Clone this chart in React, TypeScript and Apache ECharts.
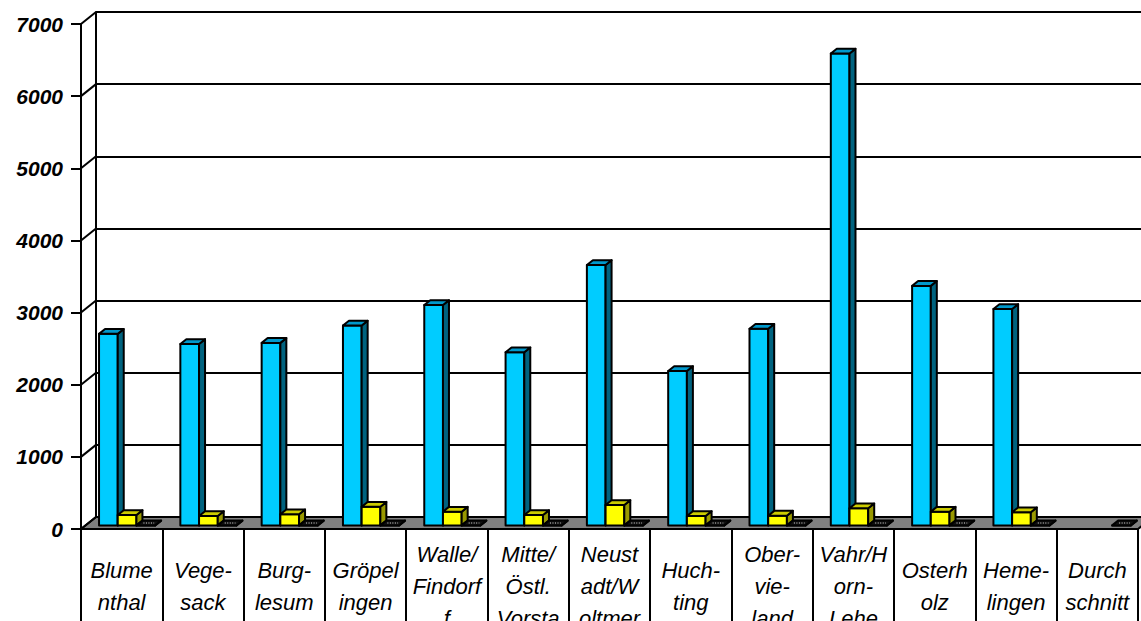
import React, { useEffect, useRef } from "react";
import * as echarts from "echarts";

// Stadtteile (wrapped the way the label cells break them)
const categories = [
  "Blume\nnthal",
  "Vege-\nsack",
  "Burg-\nlesum",
  "Gröpel\ningen",
  "Walle/\nFindorf\nf",
  "Mitte/\nÖstl.\nVorsta",
  "Neust\nadt/W\noltmer",
  "Huch-\nting",
  "Ober-\nvie-\nland",
  "Vahr/H\norn-\nLehe",
  "Osterh\nolz",
  "Heme-\nlingen",
  "Durch\nschnitt",
];

const cyanValues = [2655, 2515, 2530, 2770, 3055, 2400, 3610, 2140, 2725, 6540, 3320, 3000, null];
const yellowValues = [144, 130, 154, 259, 190, 144, 283, 130, 135, 237, 190, 182, null];
const blackValues = [0, 0, 0, 0, 0, 0, 0, 0, 0, 0, 0, 0, 0];

const yTickValues = [0, 1000, 2000, 3000, 4000, 5000, 6000, 7000];
const Y_MAX = 7000;
const Y_STEP = 1000;

// pseudo-3D depth of the floor / walls
const DX = 15;
const DY = 12;
// bar depth band inside the floor depth
const FRONT = 0.3;
const BACK = 0.7;

type Faces = { front: string; side: string; top: string };

const makeBarRenderer = (slot: number, faces: Faces, pattern: boolean) =>
  (params: any, api: any) => {
    const v = api.value(1);
    if (v === null || v === undefined || isNaN(v)) return null;
    const i = api.value(0);
    const base = api.coord([i, 0]);
    const top = api.coord([i, v]);
    const band = api.size([1, 0])[0];
    const w = band * 0.23;
    const x0 = base[0] - 1.45 * w + slot * w + DX * FRONT;
    const yb = base[1] - DY * FRONT;
    const yt = top[1] - DY * FRONT;
    const sx = DX * (BACK - FRONT);
    const sy = DY * (BACK - FRONT);
    const stroke = { stroke: "#000", lineWidth: 2, lineJoin: "round" };
    const children: any[] = [
      {
        type: "polygon",
        shape: { points: [[x0, yt], [x0 + w, yt], [x0 + w, yb], [x0, yb]] },
        style: { fill: faces.front, ...stroke },
      },
      {
        type: "polygon",
        shape: {
          points: [[x0 + w, yt], [x0 + w + sx, yt - sy], [x0 + w + sx, yb - sy], [x0 + w, yb]],
        },
        style: { fill: faces.side, ...stroke },
      },
      {
        type: "polygon",
        shape: { points: [[x0, yt], [x0 + sx, yt - sy], [x0 + w + sx, yt - sy], [x0 + w, yt]] },
        style: { fill: faces.top, ...stroke },
      },
    ];
    if (pattern) {
      children.push({
        type: "line",
        shape: { x1: x0 + sx / 2 + 4, y1: yt - sy / 2, x2: x0 + w + sx / 2 - 4, y2: yt - sy / 2 },
        style: { stroke: "#9a9a9a", lineWidth: 1.5, lineDash: [1, 1.5] },
      });
    }
    return { type: "group", children };
  };

const renderFloor = (params: any, api: any) => {
  const band = api.size([1, 0])[0];
  const a = api.coord([0, 0]);
  const b = api.coord([categories.length - 1, 0]);
  const left = a[0] - band / 2;
  const right = b[0] + band / 2;
  const y = a[1];
  return {
    type: "polygon",
    shape: { points: [[left, y], [right, y], [right + DX, y - DY], [left + DX, y - DY]] },
    style: { fill: "#808080", stroke: "#000", lineWidth: 2, lineJoin: "round" },
  };
};

const renderWallEdge = (params: any, api: any) => {
  const band = api.size([1, 0])[0];
  const p = api.coord([0, api.value(1)]);
  const left = p[0] - band / 2;
  return {
    type: "line",
    shape: { x1: left, y1: p[1], x2: left + DX, y2: p[1] - DY },
    style: { stroke: "#000", lineWidth: 2 },
  };
};

export default function App() {
  const ref = useRef<HTMLDivElement>(null);

  useEffect(() => {
    if (!ref.current) return;
    const chart = echarts.init(ref.current, undefined, { renderer: "svg" });
    const font = "'Liberation Sans', Arial, Helvetica, sans-serif";

    chart.setOption({
      animation: false,
      backgroundColor: "#ffffff",
      grid: [
        { left: 81, right: 3, top: 24, bottom: 92, outerBoundsMode: "none", containLabel: false },
        {
          left: 81 + DX,
          right: -40,
          top: 24 - DY,
          bottom: 92 + DY,
          outerBoundsMode: "none",
          containLabel: false,
        },
      ],
      xAxis: [
        {
          type: "category",
          gridIndex: 0,
          data: categories,
          boundaryGap: true,
          axisLine: { show: true, lineStyle: { color: "#000", width: 2 } },
          axisTick: { show: true, interval: 0, length: 120, lineStyle: { color: "#000", width: 2 } },
          axisLabel: {
            interval: 0,
            margin: 57,
            verticalAlign: "middle",
            fontFamily: font,
            fontStyle: "italic",
            fontSize: 22,
            lineHeight: 32,
            color: "#000",
          },
          splitLine: { show: false },
        },
        {
          type: "value",
          gridIndex: 1,
          min: 0,
          max: 1,
          show: false,
        },
      ],
      yAxis: [
        {
          type: "value",
          gridIndex: 0,
          min: 0,
          max: Y_MAX,
          interval: Y_STEP,
          axisLine: { show: true, lineStyle: { color: "#000", width: 2 } },
          axisTick: { show: true, length: 10, lineStyle: { color: "#000", width: 2 } },
          axisLabel: {
            margin: 18,
            fontFamily: font,
            fontStyle: "italic",
            fontWeight: "bold",
            fontSize: 21,
            color: "#000",
            formatter: (v: number) => String(v),
          },
          splitLine: { show: false },
        },
        {
          type: "value",
          gridIndex: 1,
          min: 0,
          max: Y_MAX,
          interval: Y_STEP,
          axisLine: { show: true, lineStyle: { color: "#000", width: 2 } },
          axisTick: { show: false },
          axisLabel: { show: false },
          splitLine: { show: true, lineStyle: { color: "#000", width: 2 } },
        },
      ],
      series: [
        {
          type: "custom",
          name: "Boden",
          xAxisIndex: 0,
          yAxisIndex: 0,
          clip: false,
          silent: true,
          z: 2,
          data: [[0, 0]],
          renderItem: renderFloor,
        },
        {
          type: "custom",
          name: "Seitenwand",
          xAxisIndex: 0,
          yAxisIndex: 0,
          clip: false,
          silent: true,
          z: 2,
          data: yTickValues.map((v) => [0, v]),
          renderItem: renderWallEdge,
        },
        {
          type: "custom",
          name: "Reihe 1",
          xAxisIndex: 0,
          yAxisIndex: 0,
          clip: false,
          z: 3,
          data: cyanValues.map((v, i) => [i, v === null ? "-" : v]),
          renderItem: makeBarRenderer(0, { front: "#00CCFF", side: "#00637F", top: "#0099CC" }, false),
        },
        {
          type: "custom",
          name: "Reihe 2",
          xAxisIndex: 0,
          yAxisIndex: 0,
          clip: false,
          z: 4,
          data: yellowValues.map((v, i) => [i, v === null ? "-" : v]),
          renderItem: makeBarRenderer(1, { front: "#FFFF00", side: "#999900", top: "#CCCC00" }, false),
        },
        {
          type: "custom",
          name: "Reihe 3",
          xAxisIndex: 0,
          yAxisIndex: 0,
          clip: false,
          z: 5,
          data: blackValues.map((v, i) => [i, v]),
          renderItem: makeBarRenderer(2, { front: "#000000", side: "#000000", top: "#111111" }, true),
        },
      ],
    });

    return () => chart.dispose();
  }, []);

  return (
    <div
      ref={ref}
      style={{ position: "fixed", left: 0, top: 0, width: 1141, height: 621, background: "#fff" }}
    />
  );
}
